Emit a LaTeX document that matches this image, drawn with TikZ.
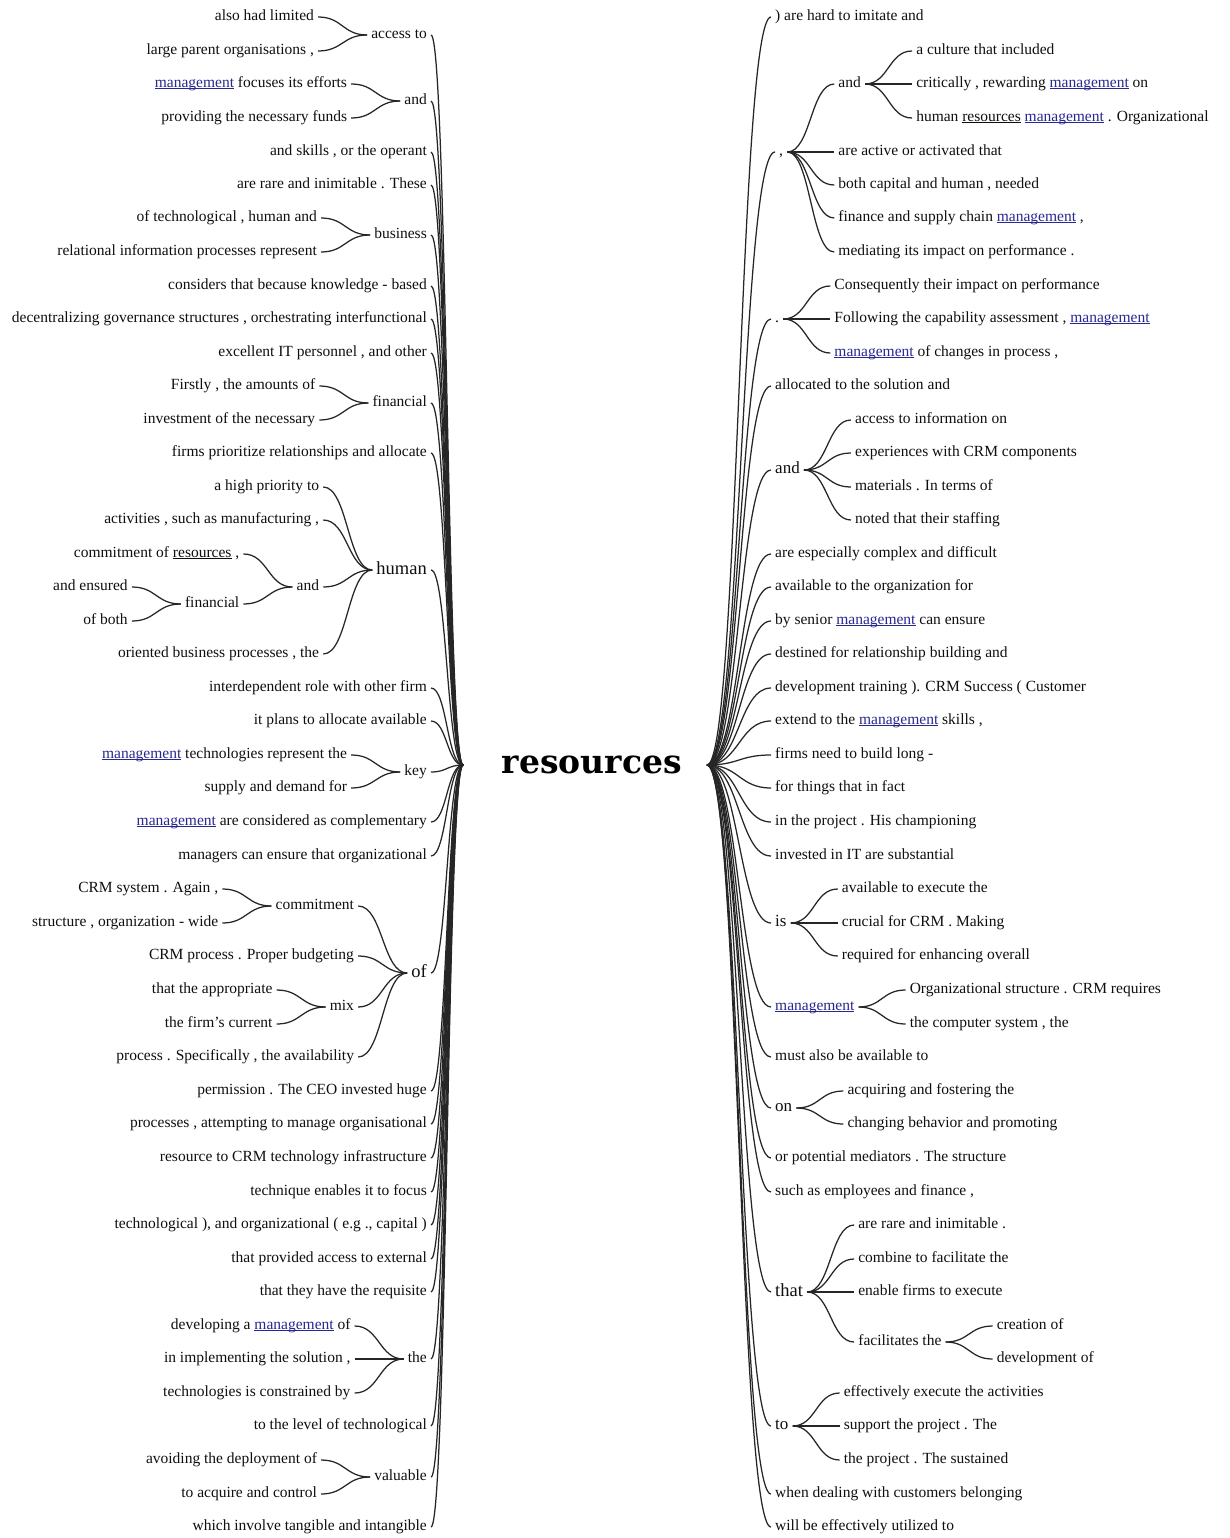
\documentclass[tikz,border=0pt]{standalone}
\usepackage{fontspec}
\setmainfont{Liberation Serif}
\newfontfamily\rootfont{DejaVu Serif}
\usetikzlibrary{calc}
\definecolor{linkblue}{RGB}{40,40,145}
\definecolor{inkgray}{RGB}{15,15,15}
% underline drawn at a fixed depth below the baseline
\newcommand\ulword[1]{\leavevmode\setbox0\hbox{#1}\rlap{\rule[-1.7pt]{\wd0}{0.75pt}}\box0}
\newcommand\mgt{\textcolor{linkblue}{\ulword{management}}}
\newcommand\rst{\ulword{resources}}

\begin{document}
\begin{tikzpicture}[x=1pt,y=-1pt,
  wd/.style={font=\fontsize{15.5}{17}\selectfont, inner xsep=4pt, inner ysep=0pt,
             text height=10pt, text depth=3pt, text=inkgray},
  L/.style={wd, anchor=east},
  R/.style={wd, anchor=west},
  big/.style={font=\fontsize{18.5}{20}\selectfont, text height=12pt, text depth=3.5pt},
  mid/.style={font=\fontsize{17}{19}\selectfont, text height=11pt, text depth=3.2pt},
  link/.style={draw=black!85, line width=1.25pt,
    to path={let \p1=(\tikztostart), \p2=(\tikztotarget) in
      .. controls ({(\x1+\x2)/2},\y1) and ({(\x1+\x2)/2},\y2) .. (\tikztotarget)}},
  lsub/.style={L, xshift=-49pt},
  rsub/.style={R, xshift=47pt},
]
\useasboundingbox[fill=white] (0,0) rectangle (1230,1538);

% root word
\node[font={\rootfont\bfseries\fontsize{33}{36}\selectfont}, text=black] (root) at (592,765) {resources};
\coordinate (rL) at (463,765);
\coordinate (rR) at (707,765);

% ---------------- left branches ----------------
\node[L] (l1) at (431,35) {access to};
  \node[lsub] (l1a) at (l1.west |- 0,17) {also had limited};
  \node[lsub] (l1b) at (l1.west |- 0,51) {large parent organisations ,};
\node[L] (l2) at (431,101) {and};
  \node[lsub] (l2a) at (l2.west |- 0,84) {\mgt{} focuses its efforts};
  \node[lsub] (l2b) at (l2.west |- 0,118) {providing the necessary funds};
\node[L] (l3) at (431,152) {and skills , or the operant};
\node[L] (l4) at (431,185) {are rare and inimitable . These};
\node[L] (l5) at (431,235) {business};
  \node[lsub] (l5a) at (l5.west |- 0,218) {of technological , human and};
  \node[lsub] (l5b) at (l5.west |- 0,252) {relational information processes represent};
\node[L] (l6) at (431,286) {considers that because knowledge - based};
\node[L] (l7) at (431,319) {decentralizing governance structures , orchestrating interfunctional};
\node[L] (l8) at (431,353) {excellent IT personnel , and other};
\node[L] (l9) at (431,403) {financial};
  \node[lsub] (l9a) at (l9.west |- 0,386) {Firstly , the amounts of};
  \node[lsub] (l9b) at (l9.west |- 0,420) {investment of the necessary};
\node[L] (l10) at (431,453) {firms prioritize relationships and allocate};
\node[L, big] (l11) at (431,570) {human};
  \node[lsub] (l11a) at (l11.west |- 0,487) {a high priority to};
  \node[lsub] (l11b) at (l11.west |- 0,520) {activities , such as manufacturing ,};
  \node[lsub] (l11c) at (l11.west |- 0,587) {and};
    \node[lsub] (l11ca) at (l11c.west |- 0,554) {commitment of \rst{} ,};
    \node[lsub] (l11cb) at (l11c.west |- 0,604) {financial};
      \node[lsub] (l11cba) at (l11cb.west |- 0,587) {and ensured};
      \node[lsub] (l11cbb) at (l11cb.west |- 0,621) {of both};
  \node[lsub] (l11d) at (l11.west |- 0,654) {oriented business processes , the};
\node[L] (l12) at (431,688) {interdependent role with other firm};
\node[L] (l13) at (431,721) {it plans to allocate available};
\node[L] (l14) at (431,772) {key};
  \node[lsub] (l14a) at (l14.west |- 0,755) {\mgt{} technologies represent the};
  \node[lsub] (l14b) at (l14.west |- 0,788) {supply and demand for};
\node[L] (l15) at (431,822) {\mgt{} are considered as complementary};
\node[L] (l16) at (431,856) {managers can ensure that organizational};
\node[L, big] (l17) at (431,973) {of};
  \node[lsub] (l17a) at (l17.west |- 0,906) {commitment};
    \node[lsub] (l17aa) at (l17a.west |- 0,889) {CRM system . Again ,};
    \node[lsub] (l17ab) at (l17a.west |- 0,923) {structure , organization - wide};
  \node[lsub] (l17b) at (l17.west |- 0,956) {CRM process . Proper budgeting};
  \node[lsub] (l17c) at (l17.west |- 0,1007) {mix};
    \node[lsub] (l17ca) at (l17c.west |- 0,990) {that the appropriate};
    \node[lsub] (l17cb) at (l17c.west |- 0,1024) {the firm's current};
  \node[lsub] (l17d) at (l17.west |- 0,1057) {process . Specifically , the availability};
\node[L] (l18) at (431,1091) {permission . The CEO invested huge};
\node[L] (l19) at (431,1124) {processes , attempting to manage organisational};
\node[L] (l20) at (431,1158) {resource to CRM technology infrastructure};
\node[L] (l21) at (431,1192) {technique enables it to focus};
\node[L] (l22) at (431,1225) {technological ), and organizational ( e.g ., capital )};
\node[L] (l23) at (431,1259) {that provided access to external};
\node[L] (l24) at (431,1292) {that they have the requisite};
\node[L] (l25) at (431,1359) {the};
  \node[lsub] (l25a) at (l25.west |- 0,1326) {developing a \mgt{} of};
  \node[lsub] (l25b) at (l25.west |- 0,1359) {in implementing the solution ,};
  \node[lsub] (l25c) at (l25.west |- 0,1393) {technologies is constrained by};
\node[L] (l26) at (431,1426) {to the level of technological};
\node[L] (l27) at (431,1477) {valuable};
  \node[lsub] (l27a) at (l27.west |- 0,1460) {avoiding the deployment of};
  \node[lsub] (l27b) at (l27.west |- 0,1494) {to acquire and control};
\node[L] (l28) at (431,1527) {which involve tangible and intangible};

% ---------------- right branches ----------------
\node[R] (r1) at (771,17) {) are hard to imitate and};
\node[R] (r2) at (775,152) {,};
  \node[rsub] (r2a) at (r2.east |- 0,84) {and};
    \node[rsub] (r2aa) at (r2a.east |- 0,51) {a culture that included};
    \node[rsub] (r2ab) at (r2a.east |- 0,84) {critically , rewarding \mgt{} on};
    \node[rsub] (r2ac) at (r2a.east |- 0,118) {human \rst{} \mgt{} . Organizational};
  \node[rsub] (r2b) at (r2.east |- 0,152) {are active or activated that};
  \node[rsub] (r2c) at (r2.east |- 0,185) {both capital and human , needed};
  \node[rsub] (r2d) at (r2.east |- 0,218) {finance and supply chain \mgt{} ,};
  \node[rsub] (r2e) at (r2.east |- 0,252) {mediating its impact on performance .};
\node[R] (r3) at (771,319) {.};
  \node[rsub] (r3a) at (r3.east |- 0,286) {Consequently their impact on performance};
  \node[rsub] (r3b) at (r3.east |- 0,319) {Following the capability assessment , \mgt};
  \node[rsub] (r3c) at (r3.east |- 0,353) {\mgt{} of changes in process ,};
\node[R] (r4) at (771,386) {allocated to the solution and};
\node[R, mid] (r5) at (771,470) {and};
  \node[rsub] (r5a) at (r5.east |- 0,420) {access to information on};
  \node[rsub] (r5b) at (r5.east |- 0,453) {experiences with CRM components};
  \node[rsub] (r5c) at (r5.east |- 0,487) {materials . In terms of};
  \node[rsub] (r5d) at (r5.east |- 0,520) {noted that their staffing};
\node[R] (r6) at (771,554) {are especially complex and difficult};
\node[R] (r7) at (771,587) {available to the organization for};
\node[R] (r8) at (771,621) {by senior \mgt{} can ensure};
\node[R] (r9) at (771,654) {destined for relationship building and};
\node[R] (r10) at (771,688) {development training ). CRM Success ( Customer};
\node[R] (r11) at (771,721) {extend to the \mgt{} skills ,};
\node[R] (r12) at (771,755) {firms need to build long -};
\node[R] (r13) at (771,788) {for things that in fact};
\node[R] (r14) at (771,822) {in the project . His championing};
\node[R] (r15) at (771,856) {invested in IT are substantial};
\node[R, mid] (r16) at (771,923) {is};
  \node[rsub] (r16a) at (r16.east |- 0,889) {available to execute the};
  \node[rsub] (r16b) at (r16.east |- 0,923) {crucial for CRM . Making};
  \node[rsub] (r16c) at (r16.east |- 0,956) {required for enhancing overall};
\node[R] (r17) at (771,1007) {\mgt};
  \node[rsub] (r17a) at (r17.east |- 0,990) {Organizational structure . CRM requires};
  \node[rsub] (r17b) at (r17.east |- 0,1024) {the computer system , the};
\node[R] (r18) at (771,1057) {must also be available to};
\node[R, mid] (r19) at (771,1108) {on};
  \node[rsub] (r19a) at (r19.east |- 0,1091) {acquiring and fostering the};
  \node[rsub] (r19b) at (r19.east |- 0,1124) {changing behavior and promoting};
\node[R] (r20) at (771,1158) {or potential mediators . The structure};
\node[R] (r21) at (771,1192) {such as employees and finance ,};
\node[R, big] (r22) at (771,1292) {that};
  \node[rsub] (r22a) at (r22.east |- 0,1225) {are rare and inimitable .};
  \node[rsub] (r22b) at (r22.east |- 0,1259) {combine to facilitate the};
  \node[rsub] (r22c) at (r22.east |- 0,1292) {enable firms to execute};
  \node[rsub] (r22d) at (r22.east |- 0,1342) {facilitates the};
    \node[rsub] (r22da) at (r22d.east |- 0,1326) {creation of};
    \node[rsub] (r22db) at (r22d.east |- 0,1359) {development of};
\node[R, mid] (r23) at (771,1426) {to};
  \node[rsub] (r23a) at (r23.east |- 0,1393) {effectively execute the activities};
  \node[rsub] (r23b) at (r23.east |- 0,1426) {support the project . The};
  \node[rsub] (r23c) at (r23.east |- 0,1460) {the project . The sustained};
\node[R] (r24) at (771,1494) {when dealing with customers belonging};
\node[R] (r25) at (771,1527) {will be effectively utilized to};

% ---------------- connectors ----------------
\foreach \k in {l1,l2,l3,l4,l5,l6,l7,l8,l9,l10,l11,l12,l13,l14,l15,l16,l17,l18,l19,l20,l21,l22,l23,l24,l25,l26,l27,l28}
  \draw[link] (rL) to (\k.east);
\foreach \k in {r1,r2,r3,r4,r5,r6,r7,r8,r9,r10,r11,r12,r13,r14,r15,r16,r17,r18,r19,r20,r21,r22,r23,r24,r25}
  \draw[link] (rR) to (\k.west);

% left sub-branches: parent/child pairs
\foreach \pa/\ch in {l1/l1a,l1/l1b,l2/l2a,l2/l2b,l5/l5a,l5/l5b,l9/l9a,l9/l9b,
    l11/l11a,l11/l11b,l11/l11c,l11/l11d,l11c/l11ca,l11c/l11cb,l11cb/l11cba,l11cb/l11cbb,
    l14/l14a,l14/l14b,l17/l17a,l17/l17b,l17/l17c,l17/l17d,l17a/l17aa,l17a/l17ab,
    l17c/l17ca,l17c/l17cb,l25/l25a,l25/l25b,l25/l25c,l27/l27a,l27/l27b}
  \draw[link] (\pa.west) to (\ch.east);

% right sub-branches
\foreach \pa/\ch in {r2/r2a,r2/r2b,r2/r2c,r2/r2d,r2/r2e,r2a/r2aa,r2a/r2ab,r2a/r2ac,
    r3/r3a,r3/r3b,r3/r3c,r5/r5a,r5/r5b,r5/r5c,r5/r5d,r16/r16a,r16/r16b,r16/r16c,
    r17/r17a,r17/r17b,r19/r19a,r19/r19b,r22/r22a,r22/r22b,r22/r22c,r22/r22d,
    r22d/r22da,r22d/r22db,r23/r23a,r23/r23b,r23/r23c}
  \draw[link] (\pa.east) to (\ch.west);
\end{tikzpicture}
\end{document}
